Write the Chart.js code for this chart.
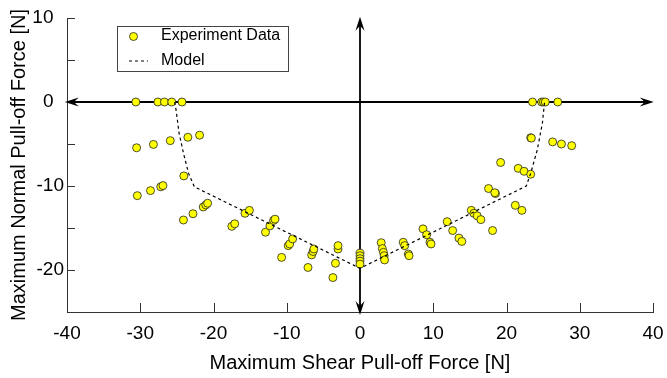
<!DOCTYPE html>
<html lang="en">
<head>
<meta charset="UTF-8" />
<title>Pull-off Force</title>
<script src="https://cdn.jsdelivr.net/npm/chart.js"></script>
<style>
html, body { margin: 0; padding: 0; background: #fff; }
#wrap { width: 667px; height: 378px; }
</style>
</head>
<body>
<div id="wrap"><canvas id="chart" width="667" height="378"></canvas></div>
<script>
// experiment data
const expX = [-30.6, -27.6, -26.7, -25.7, -24.3,
  -30.5, -28.2, -25.9, -23.5, -21.9,
  -24.05,
  -30.4, -28.6, -27.2, -26.9,
  -24.1, -22.8, -21.4, -21.05, -20.8,
  -17.5, -17.1, -15.7, -15.1,
  -12.9, -12.3, -11.8, -11.6,
  -10.7, -9.8, -9.6, -9.2,
  -7.1, -6.6, -6.4, -6.3,
  -3.7, -3.35, -3.0, -3.0,
  0, 0, 0, 0, 0,
  2.9, 3.05, 3.2, 3.3, 3.35,
  5.9, 6.1, 6.6, 6.7,
  8.6, 9.1, 9.55, 9.7,
  11.9, 12.65, 13.5, 13.9,
  15.2, 15.55, 16.0, 16.5,
  18.1, 17.55, 18.5, 18.4,
  21.2, 22.1,
  19.2, 21.6, 22.4, 23.3,
  23.55, 24.8, 25.05, 25.3, 27.0,
  23.3, 23.4, 26.3, 27.5, 28.9];
const expY = [0, 0, 0, 0, 0,
  -5.45, -5.05, -4.6, -4.2, -3.95,
  -8.8,
  -11.15, -10.55, -10.1, -9.95,
  -14.05, -13.3, -12.5, -12.25, -12.05,
  -14.8, -14.5, -13.25, -12.9,
  -15.5, -14.75, -14.1, -13.95,
  -18.5, -17.1, -16.9, -16.3,
  -19.7, -18.2, -17.8, -17.5,
  -20.9, -19.2, -17.5, -17.1,
  -18.0, -18.3, -18.65, -18.95, -19.3,
  -16.75, -17.45, -17.9, -18.3, -18.8,
  -16.7, -17.1, -18.1, -18.3,
  -15.1, -15.8, -16.7, -16.9,
  -14.25, -15.3, -16.2, -16.6,
  -12.9, -13.25, -13.55, -14.0,
  -15.3, -10.3, -10.9, -10.8,
  -12.3, -12.9,
  -7.2, -7.9, -8.25, -8.6,
  0, 0, 0, 0, 0,
  -4.25, -4.3, -4.75, -5.0, -5.2];

// model curve
const modelX = [-25.3, -25.1, -24.7, -24.1, -23.4, -22.6, 0, 22.7, 23.3, 24.2, 24.9, 25.2];
const modelY = [0, -1, -3.7, -6.1, -8.5, -10.1, -19.8, -10.0, -8.5, -5.7, -2.5, 0];

const xTicks = [-40, -30, -20, -10, 0, 10, 20, 30, 40];
const yTicks = [-25, -20, -15, -10, -5, 0, 5, 10];

const FONT = '"Liberation Sans", Arial, Helvetica, sans-serif';

function toPoints(xs, ys) {
  return xs.map((x, i) => ({ x: x, y: ys[i] }));
}

function arrowHead(ctx, tipX, tipY, dx, dy) {
  // dx,dy: unit direction the arrow points to
  const len = 14, half = 4.5, notch = 5;
  const px = -dy, py = dx;
  ctx.beginPath();
  ctx.moveTo(tipX, tipY);
  ctx.lineTo(tipX - dx * len + px * half, tipY - dy * len + py * half);
  ctx.lineTo(tipX - dx * (len - notch), tipY - dy * (len - notch));
  ctx.lineTo(tipX - dx * len - px * half, tipY - dy * len - py * half);
  ctx.closePath();
  ctx.fill();
}

const decorPlugin = {
  id: 'decor',
  beforeDatasetsDraw(chart) {
    const ctx = chart.ctx;
    const xs = chart.scales.x, ys = chart.scales.y;
    const area = chart.chartArea;
    ctx.save();
    // inward ticks
    ctx.strokeStyle = '#333';
    ctx.lineWidth = 1;
    ctx.beginPath();
    xTicks.forEach(v => {
      const px = Math.round(xs.getPixelForValue(v)) + 0.5;
      ctx.moveTo(px, area.bottom);
      ctx.lineTo(px, area.bottom - 9);
    });
    yTicks.forEach(v => {
      const py = Math.round(ys.getPixelForValue(v)) + 0.5;
      ctx.moveTo(area.left, py);
      ctx.lineTo(area.left + 8, py);
    });
    ctx.stroke();

    // axis arrows through the origin
    const x0 = xs.getPixelForValue(0), y0 = ys.getPixelForValue(0);
    const left = xs.getPixelForValue(-40.3), right = xs.getPixelForValue(40.1);
    const top = ys.getPixelForValue(10.15), bottom = ys.getPixelForValue(-25.35);
    ctx.strokeStyle = '#000';
    ctx.fillStyle = '#000';
    ctx.lineWidth = 1.8;
    ctx.beginPath();
    ctx.moveTo(left + 6, y0);
    ctx.lineTo(right - 6, y0);
    ctx.moveTo(x0, top + 6);
    ctx.lineTo(x0, bottom - 6);
    ctx.stroke();
    arrowHead(ctx, left, y0, -1, 0);
    arrowHead(ctx, right, y0, 1, 0);
    arrowHead(ctx, x0, top, 0, -1);
    arrowHead(ctx, x0, bottom, 0, 1);
    ctx.restore();
  },
  afterDraw(chart) {
    const ctx = chart.ctx;
    ctx.save();
    // legend box
    const bx = 117.5, by = 26.5, bw = 171, bh = 45;
    ctx.fillStyle = '#fff';
    ctx.fillRect(bx, by, bw, bh);
    ctx.strokeStyle = '#444';
    ctx.lineWidth = 1;
    ctx.strokeRect(bx, by, bw, bh);
    // marker
    ctx.beginPath();
    ctx.arc(133.5, 36.5, 4, 0, Math.PI * 2);
    ctx.fillStyle = '#ffff00';
    ctx.fill();
    ctx.strokeStyle = '#222';
    ctx.lineWidth = 0.8;
    ctx.stroke();
    // dashed sample
    ctx.beginPath();
    ctx.setLineDash([3, 3]);
    ctx.strokeStyle = '#000';
    ctx.lineWidth = 1.2;
    ctx.moveTo(129, 61);
    ctx.lineTo(148, 61);
    ctx.stroke();
    ctx.setLineDash([]);
    // labels
    ctx.fillStyle = '#000';
    ctx.font = '16px ' + FONT;
    ctx.textBaseline = 'middle';
    ctx.textAlign = 'left';
    ctx.fillText('Experiment Data', 161, 36);
    ctx.fillText('Model', 161, 61);
    ctx.restore();
  }
};

new Chart(document.getElementById('chart').getContext('2d'), {
  type: 'scatter',
  data: {
    datasets: [
      {
        label: 'Experiment Data',
        data: toPoints(expX, expY),
        backgroundColor: '#ffff00',
        borderColor: '#222',
        borderWidth: 0.8,
        pointRadius: 4,
        pointHoverRadius: 4,
        order: 2
      },
      {
        label: 'Model',
        data: toPoints(modelX, modelY),
        showLine: true,
        borderColor: '#000',
        borderWidth: 1.2,
        borderDash: [3, 3],
        pointRadius: 0,
        fill: false,
        tension: 0,
        order: 1
      }
    ]
  },
  options: {
    responsive: false,
    animation: false,
    layout: { padding: { top: 18, right: 14, left: 0, bottom: 0 } },
    plugins: {
      legend: { display: false },
      tooltip: { enabled: false }
    },
    scales: {
      x: {
        type: 'linear',
        min: -40,
        max: 40,
        afterBuildTicks: s => { s.ticks = xTicks.map(v => ({ value: v })); },
        afterFit: s => { s.height = 66; s.paddingLeft = 0; s.paddingRight = 0; },
        grid: { display: false, drawTicks: false },
        border: { display: true, color: '#333', width: 1 },
        ticks: {
          color: '#000',
          padding: 10,
          maxRotation: 0,
          font: { family: FONT, size: 19 },
          callback: v => String(v)
        },
        title: {
          display: true,
          text: 'Maximum Shear Pull-off Force [N]',
          color: '#000',
          font: { family: FONT, size: 20 },
          padding: { top: 0, bottom: 3 }
        }
      },
      y: {
        type: 'linear',
        min: -25,
        max: 10,
        afterBuildTicks: s => { s.ticks = yTicks.map(v => ({ value: v })); },
        afterFit: s => { s.width = 67; s.paddingTop = 0; s.paddingBottom = 0; },
        grid: { display: false, drawTicks: false },
        border: { display: true, color: '#333', width: 1 },
        ticks: {
          color: '#000',
          padding: 3,
          font: { family: FONT, size: 19 },
          callback: v => (v % 10 !== 0 ? '' : (v >= 0 ? v + '  ' : String(v)))
        },
        title: {
          display: true,
          text: 'Maximum Normal Pull-off Force [N]',
          color: '#000',
          font: { family: FONT, size: 20 },
          padding: { top: 7, bottom: 0 }
        }
      }
    }
  },
  plugins: [decorPlugin]
});
</script>
</body>
</html>
